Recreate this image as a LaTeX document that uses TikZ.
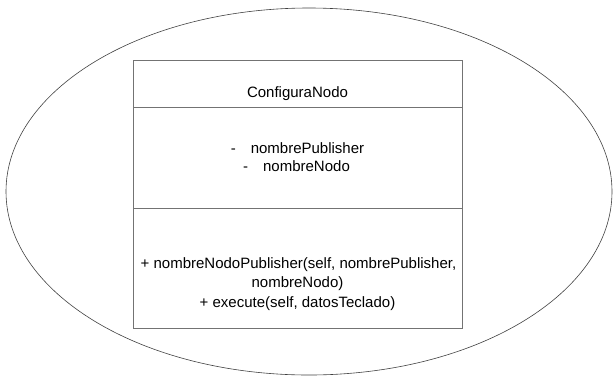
\documentclass[tikz,border=0pt]{standalone}
\usepackage{fontspec}
\setmainfont{Liberation Sans}
\usetikzlibrary{shapes.geometric}
\begin{document}
\begin{tikzpicture}[x=1pt,y=-1pt,
  lbl/.style={font=\fontsize{15}{19.5}\selectfont, inner sep=0pt, anchor=base},
  part/.style={draw=black!55, line width=0.7pt, inner sep=0pt, anchor=north west}]
\useasboundingbox (0,0) rectangle (615,381);
\node[draw=black!75, line width=0.6pt, ellipse, minimum width=606pt, minimum height=367pt, inner sep=0pt] (oval) at (309,191.5) {};
\node[part, minimum width=329pt, minimum height=47pt] (head) at (133,60) {};
\node[part, minimum width=329pt, minimum height=101pt] (attrs) at (133,107) {};
\node[part, minimum width=329pt, minimum height=120pt] (meths) at (133,208) {};
\node[lbl] (tname) at (297.5,97.5) {ConfiguraNodo};
\node[lbl] (tattra) at (297.5,153) {-\hspace{15pt}nombrePublisher};
\node[lbl] (tattrb) at (296.5,171.5) {-\hspace{15pt}nombreNodo};
\node[lbl] (tmetha) at (298.5,268) {+ nombreNodoPublisher(self, nombrePublisher,};
\node[lbl] (tmethb) at (297.5,287.5) {nombreNodo)};
\node[lbl] (tmethc) at (297.5,307) {+ execute(self, datosTeclado)};
\end{tikzpicture}
\end{document}
